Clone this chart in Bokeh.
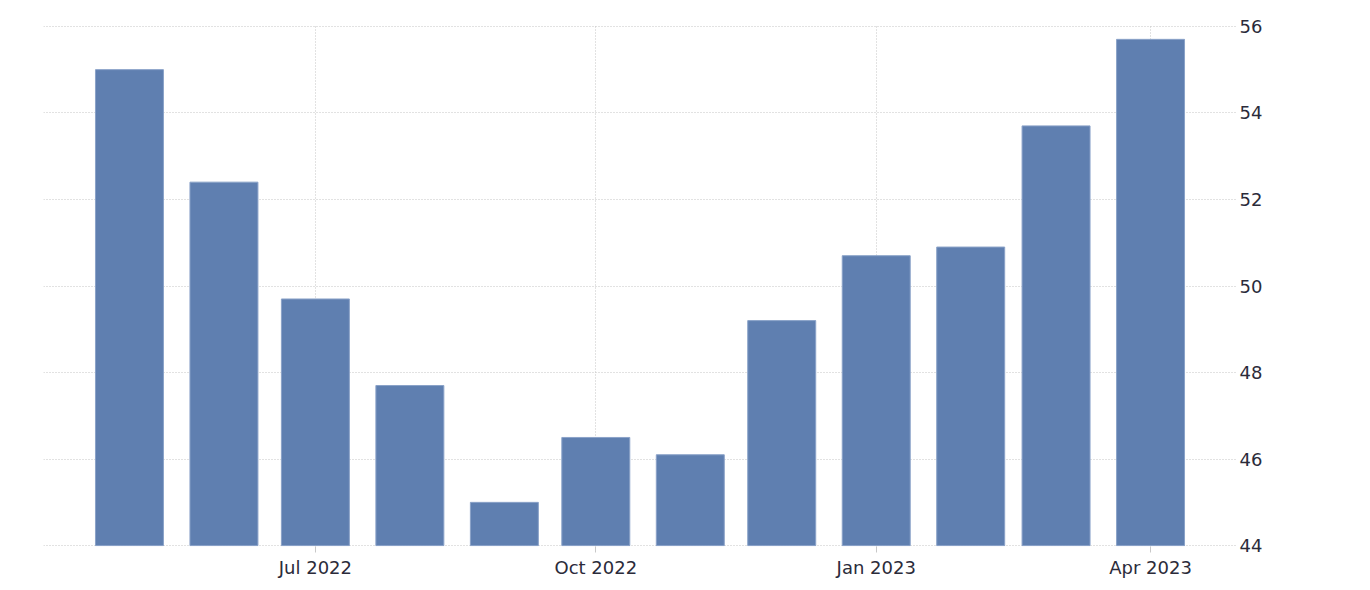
import pandas as pd
from bokeh.plotting import figure
from bokeh.models import (ColumnDataSource, Range1d, LinearAxis, FixedTicker,
                          DatetimeTickFormatter)
from bokeh.embed import file_html
from bokeh.resources import INLINE

months = ["2022-05-01", "2022-06-01", "2022-07-01", "2022-08-01", "2022-09-01", "2022-10-01",
          "2022-11-01", "2022-12-01", "2023-01-01", "2023-02-01", "2023-03-01", "2023-04-01"]
values = [55.0, 52.4, 49.7, 47.7, 45.0, 46.5, 46.1, 49.2, 50.7, 50.9, 53.7, 55.7]
tick_months = ["2022-07-01", "2022-10-01", "2023-01-01", "2023-04-01"]
y_ticks = [44, 46, 48, 50, 52, 54, 56]

dates = pd.to_datetime(months)
DAY = 86400000.0
src = ColumnDataSource(dict(x=dates, top=values))

def ms(s):
    return pd.Timestamp(s).value / 1e6

FONT = "DejaVu Sans"
TXT = "#2b2b3a"

x0 = ms(months[0]) - 28.2 * DAY
x1 = ms(months[-1]) + 28.2 * DAY

p = figure(width=1354, height=584, output_backend="svg", toolbar_location=None,
           x_axis_type="datetime",
           x_range=Range1d(x0, x1), y_range=Range1d(43.98, 56.02),
           y_axis_location=None, min_border_left=43, min_border_right=118,
           min_border_top=25, min_border_bottom=38)
p.outline_line_color = None
p.background_fill_color = "white"
p.border_fill_color = "white"

p.vbar(x="x", top="top", bottom=44, width=22.3 * DAY, source=src,
       fill_color="#5f7fb0", line_color="#8aa2c8", line_width=1)

tick_pos = [ms(m) for m in tick_months]
xa = p.xaxis[0]
xa.ticker = FixedTicker(ticks=tick_pos)
fmt = "%b %Y"
xa.formatter = DatetimeTickFormatter(days=fmt, months=fmt, years=fmt, hours=fmt,
                                     minutes=fmt, seconds=fmt, milliseconds=fmt,
                                     microseconds=fmt, minsec=fmt, hourmin=fmt)
xa.axis_line_color = None
xa.major_tick_in = 0
xa.major_tick_out = 6
xa.major_tick_line_color = "#c8c8c8"
xa.minor_tick_line_color = None
xa.major_label_text_font = FONT
xa.major_label_text_font_size = "18px"
xa.major_label_text_color = TXT
xa.major_label_standoff = 4

ya = LinearAxis(ticker=FixedTicker(ticks=y_ticks))
ya.axis_line_color = None
ya.major_tick_line_color = None
ya.minor_tick_line_color = None
ya.major_label_text_font = FONT
ya.major_label_text_font_size = "18px"
ya.major_label_text_color = TXT
ya.major_label_standoff = -3
p.add_layout(ya, "right")

p.xgrid.ticker = FixedTicker(ticks=tick_pos)
p.xgrid.grid_line_color = "#c4c4c4"
p.xgrid.grid_line_dash = "1 2"
p.ygrid.ticker = FixedTicker(ticks=y_ticks)
p.ygrid.grid_line_color = "#c4c4c4"
p.ygrid.grid_line_dash = "1 2"
p.ygrid.level = "underlay"
p.xgrid.level = "underlay"

open("out.html", "w").write(file_html(p, INLINE))
